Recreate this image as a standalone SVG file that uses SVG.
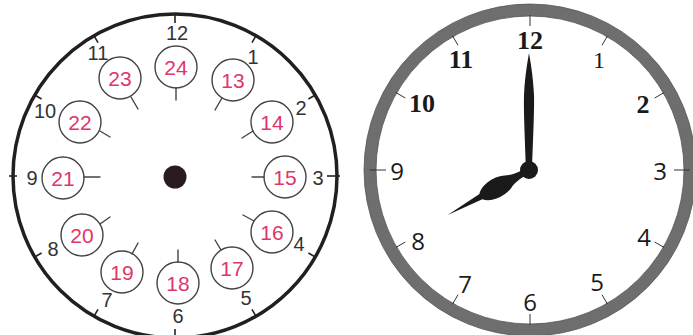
<svg xmlns="http://www.w3.org/2000/svg" width="693" height="335" viewBox="0 0 693 335">
<style>
.hn{font-family:"Liberation Sans",Arial,sans-serif;font-size:20px;fill:#333;text-anchor:middle}
.pk{font-family:"Liberation Sans",Arial,sans-serif;font-size:21px;fill:#e0356b;text-anchor:middle}
.sc{fill:#fff;stroke:#444;stroke-width:1.4}
.st{stroke:#444;stroke-width:1.4;stroke-linecap:round}
.lt{stroke:#222;stroke-width:1.6}
.rt{stroke:#333;stroke-width:1}
.bs{font-family:"Liberation Serif","Times New Roman",serif;font-weight:bold;font-size:26px;fill:#1a1a1a;text-anchor:middle}
.ls{font-family:"Liberation Serif","Times New Roman",serif;font-size:24px;fill:#1a1a1a;text-anchor:middle}
.ss{font-family:"Open Sans","DejaVu Sans",sans-serif;font-size:24px;fill:#1a1a1a;text-anchor:middle}
</style>
<rect width="693" height="335" fill="#fff"/>

<g id="left-clock">
  <circle cx="175" cy="176" r="162" fill="none" stroke="#231f20" stroke-width="3.5"/>
  <g id="left-ticks">
    <line class="lt" x1="175" y1="23" x2="175" y2="13"/>
    <line class="lt" x1="252" y1="42.6" x2="256.5" y2="34.8"/>
    <line class="lt" x1="308.4" y1="99" x2="316.2" y2="94.5"/>
    <line class="lt" x1="327" y1="176" x2="340" y2="176"/>
    <line class="lt" x1="308.4" y1="253" x2="316.2" y2="257.5"/>
    <line class="lt" x1="252" y1="309.4" x2="256.5" y2="317.2"/>
    <line class="lt" x1="175" y1="329" x2="175" y2="341"/>
    <line class="lt" x1="98" y1="309.4" x2="93.5" y2="317.2"/>
    <line class="lt" x1="41.6" y1="253" x2="33.8" y2="257.5"/>
    <line class="lt" x1="17" y1="176" x2="9" y2="176"/>
    <line class="lt" x1="41.6" y1="99" x2="33.8" y2="94.5"/>
    <line class="lt" x1="98" y1="42.6" x2="93.5" y2="34.8"/>
  </g>
  <g id="left-hours">
    <text class="hn" x="177" y="40">12</text>
    <text class="hn" x="98" y="60">11</text>
    <text class="hn" x="253" y="64">1</text>
    <text class="hn" x="45" y="118">10</text>
    <text class="hn" x="301" y="115">2</text>
    <text class="hn" x="32" y="185">9</text>
    <text class="hn" x="318" y="185">3</text>
    <text class="hn" x="53" y="256">8</text>
    <text class="hn" x="299" y="251">4</text>
    <text class="hn" x="107" y="307">7</text>
    <text class="hn" x="246" y="305">5</text>
    <text class="hn" x="178" y="323">6</text>
  </g>
  <circle id="left-hub" cx="175" cy="177" r="11.5" fill="#2a1a22"/>

  <g id="n24"><circle class="sc" cx="176" cy="67" r="21"/><line class="st" x1="176" y1="88" x2="176" y2="100"/><text class="pk" x="176" y="74.5">24</text></g>
  <g id="n13"><circle class="sc" cx="233" cy="80" r="21"/><line class="st" x1="222" y1="98" x2="215" y2="110"/><text class="pk" x="233" y="87.5">13</text></g>
  <g id="n14"><circle class="sc" cx="272" cy="122" r="21"/><line class="st" x1="253" y1="131" x2="242" y2="138"/><text class="pk" x="272" y="129.5">14</text></g>
  <g id="n15"><circle class="sc" cx="285" cy="177" r="21"/><line class="st" x1="264" y1="177" x2="252" y2="177"/><text class="pk" x="285" y="184.5">15</text></g>
  <g id="n16"><circle class="sc" cx="272" cy="232" r="21"/><line class="st" x1="254" y1="221" x2="243" y2="215"/><text class="pk" x="272" y="239.5">16</text></g>
  <g id="n17"><circle class="sc" cx="232" cy="268" r="21"/><line class="st" x1="221" y1="250" x2="215" y2="240"/><text class="pk" x="232" y="275.5">17</text></g>
  <g id="n18"><circle class="sc" cx="178" cy="283" r="21"/><line class="st" x1="178" y1="262" x2="178" y2="250"/><text class="pk" x="178" y="290.5">18</text></g>
  <g id="n19"><circle class="sc" cx="122" cy="272" r="21"/><line class="st" x1="132" y1="254" x2="138" y2="243"/><text class="pk" x="122" y="279.5">19</text></g>
  <g id="n20"><circle class="sc" cx="82" cy="235" r="21"/><line class="st" x1="100" y1="224" x2="110" y2="217"/><text class="pk" x="82" y="242.5">20</text></g>
  <g id="n21"><circle class="sc" cx="63" cy="178" r="21"/><line class="st" x1="84" y1="177" x2="100" y2="177"/><text class="pk" x="63" y="185.5">21</text></g>
  <g id="n22"><circle class="sc" cx="80" cy="122" r="21"/><line class="st" x1="100" y1="131" x2="110" y2="137"/><text class="pk" x="80" y="129.5">22</text></g>
  <g id="n23"><circle class="sc" cx="120" cy="78" r="21"/><line class="st" x1="131" y1="97" x2="138" y2="109"/><text class="pk" x="120" y="85.5">23</text></g>
</g>

<g id="right-clock">
  <circle cx="530" cy="170" r="160" fill="#fff" stroke="#6e6e6e" stroke-width="12"/>
  <circle cx="530" cy="170" r="166" fill="none" stroke="#555" stroke-width="0.8"/>
  <circle cx="530" cy="170" r="154" fill="none" stroke="#555" stroke-width="0.8"/>
  <g id="right-ticks">
    <line class="rt" x1="530" y1="26" x2="530" y2="15"/>
    <line class="rt" x1="602" y1="45.3" x2="607.5" y2="35.8"/>
    <line class="rt" x1="654.7" y1="98" x2="664.2" y2="92.5"/>
    <line class="rt" x1="674" y1="170" x2="690" y2="170"/>
    <line class="rt" x1="654.7" y1="242" x2="664.2" y2="247.5"/>
    <line class="rt" x1="602" y1="294.7" x2="607.5" y2="304.2"/>
    <line class="rt" x1="530" y1="314" x2="530" y2="325"/>
    <line class="rt" x1="458" y1="294.7" x2="452.5" y2="304.2"/>
    <line class="rt" x1="405.3" y1="242" x2="395.8" y2="247.5"/>
    <line class="rt" x1="386" y1="170" x2="370" y2="170"/>
    <line class="rt" x1="405.3" y1="98" x2="395.8" y2="92.5"/>
    <line class="rt" x1="458" y1="45.3" x2="452.5" y2="35.8"/>
  </g>
  <g id="right-hours">
    <text class="bs" x="530" y="49">12</text>
    <text class="bs" x="461" y="68">11</text>
    <text class="ls" x="599" y="68">1</text>
    <text class="bs" x="422" y="112">10</text>
    <text class="bs" x="643" y="113">2</text>
    <text class="ss" x="397" y="180">9</text>
    <text class="ss" x="660" y="180">3</text>
    <text class="ss" x="418" y="250">8</text>
    <text class="ss" x="644" y="246">4</text>
    <text class="ss" x="465" y="293">7</text>
    <text class="ss" x="597" y="291">5</text>
    <text class="ss" x="530" y="311">6</text>
  </g>
  <g id="hands" fill="#1a1a1a">
    <path id="minute-hand" transform="translate(529,170)" d="M -3,0 C -4,-30 -5.5,-60 -5,-75 C -4,-95 -1.5,-108 0,-117 C 1.5,-108 4,-95 5,-75 C 5.5,-60 4,-30 3,0 Z"/>
    <path id="hour-hand" transform="translate(529,170) rotate(151)" d="M 0,-3 C 10,-3 18,-4 24,-7 C 32,-11 48,-11 55,-3 L 93,0 L 55,3 C 48,11 32,11 24,7 C 18,4 10,3 0,3 Z"/>
    <circle id="right-hub" cx="529" cy="170" r="9"/>
  </g>
</g>
</svg>
